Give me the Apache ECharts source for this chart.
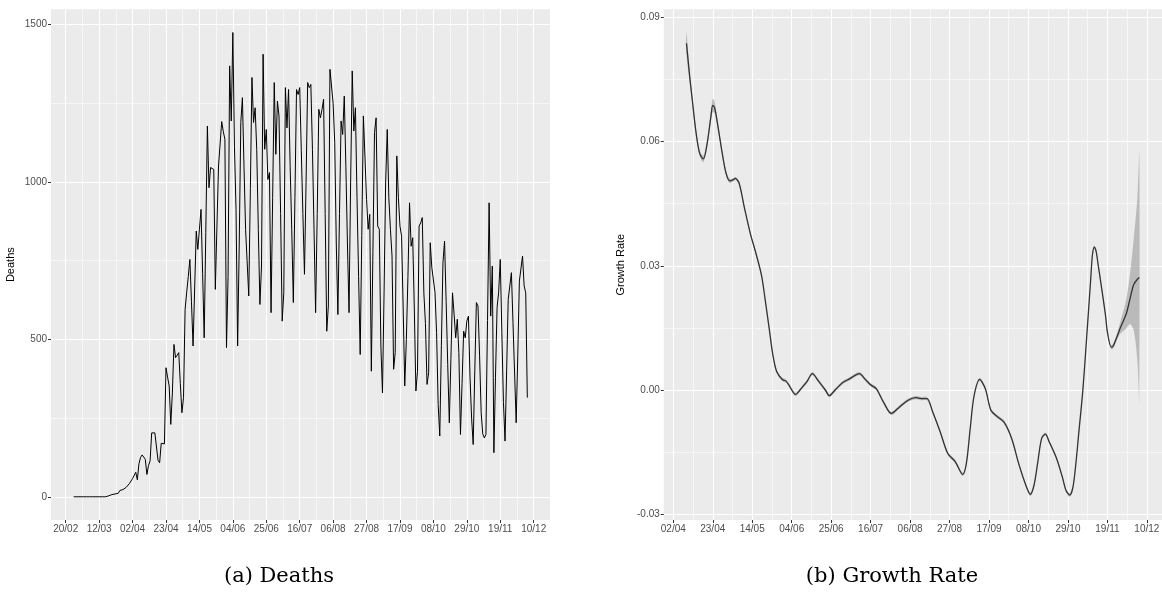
<!DOCTYPE html>
<html>
<head>
<meta charset="utf-8">
<script src="https://cdn.jsdelivr.net/npm/echarts@6/dist/echarts.min.js"></script>
<style>
  html, body { margin: 0; padding: 0; background: #fff; }
  #chart { width: 1162px; height: 592px; }
</style>
</head>
<body>
<div id="chart"></div>
<script>
// Daily deaths, one value per day starting on this date
const deathsStart = '2020-02-25';
const deaths = [
  0,0,0,0,0,0,0,0,0,0,0,0,0,0,0,0,0,0,0,0,0,
  1,3,4,7,7,9,12,11,20,22,23,25,30,35,42,48,58,64,78,54,
  105,125,133,135,119,71,99,114,203,204,203,207,116,108,170,170,168,410,380,352,
  230,330,484,442,450,458,360,267,315,595,650,700,754,620,479,484,844,786,850,913,
  710,505,840,1178,982,1046,1045,1040,659,860,1051,1056,1192,1160,1136,474,700,1369,1194,1475,
  1114,913,479,800,1189,1268,1050,850,855,638,980,1332,1189,1236,1104,850,611,733,1406,1104,
  1167,1008,1030,585,950,1316,1088,1257,1210,900,558,648,1300,1172,1294,1050,850,617,950,1294,
  1278,1300,1100,900,707,1000,1316,1300,1310,1104,850,585,900,1231,1204,1230,1263,900,526,606,
  1358,1363,1250,1125,800,579,900,1194,1151,1273,1050,800,585,1000,1353,1162,1236,950,700,452,
  830,1210,1080,945,850,897,399,780,1157,1204,860,850,479,330,650,1000,1167,950,850,765,
  405,458,1083,950,860,828,600,352,500,700,934,796,823,600,336,399,860,870,887,648,
  550,357,394,807,728,733,650,521,293,193,480,744,812,620,420,235,440,648,580,505,
  564,458,198,360,526,505,558,574,380,250,166,400,617,606,450,267,200,187,198,560,
  934,574,733,140,380,601,650,754,521,300,177,400,627,622,712,553,548,235,450,685,
  680,765,670,648,315
];

// Smoothed growth rate: days after 2 April 2020, estimate and half-width of its band
const growthOrigin = '2020-04-02';
const growthDay = [
  7,9,10,12,14,16,18,20,21,22,24,26,28,30,32,33,35,38,41,44,47,49,51,53,55,
  58,60,62,65,68,71,74,77,81,83,86,90,94,99,102,105,108,112,116,120,125,129,132,135,
  138,142,146,150,154,156,158,160,163,166,169,172,176,180,184,188,190,192,194,196,198,
  200,204,207,209,211,213,216,218,220,222,223,224,225,226,228,230,231,233,234,236,238,
  241,243,245,247,248
];
const growthRate = [
  0.0837,0.0745,0.0705,0.0625,0.0572,0.0558,0.0595,0.0660,0.0687,0.0682,0.0630,0.0573,0.0525,0.0505,0.0508,0.0511,0.0500,0.0437,0.0378,0.0330,0.0276,0.0215,0.0150,0.0085,0.0045,
  0.0026,0.0022,0.0009,-0.0010,0.0004,0.0020,0.0040,0.0024,0.0000,-0.0013,0.0000,0.0018,0.0028,0.0040,0.0027,0.0013,0.0004,-0.0030,-0.0056,-0.0042,-0.0024,-0.0018,-0.0020,-0.0020,
  -0.0052,-0.0100,-0.0152,-0.0172,-0.0203,-0.0175,-0.0092,-0.0015,0.0026,0.0004,-0.0048,-0.0062,-0.0077,-0.0116,-0.0180,-0.0234,-0.0251,-0.0228,-0.0172,-0.0116,-0.0106,
  -0.0124,-0.0165,-0.0209,-0.0242,-0.0253,-0.0225,-0.0092,0.0004,0.0130,0.0260,0.0325,0.0345,0.0335,0.0305,0.0244,0.0180,0.0140,0.0104,0.0106,0.0128,0.0152,
  0.0184,0.0220,0.0255,0.0268,0.0272
];
const growthBand = [
  0.0026,0.0012,0.0010,0.0008,0.0007,0.0008,0.0008,0.0012,0.0016,0.0014,0.0008,0.0006,0.0005,0.0005,0.0004,0.0004,0.0004,0.0004,0.0004,0.0004,0.0004,0.0004,0.0004,0.0004,0.0004,
  0.0004,0.0004,0.0004,0.0004,0.0004,0.0004,0.0004,0.0004,0.0004,0.0004,0.0004,0.0004,0.0004,0.0004,0.0004,0.0004,0.0004,0.0004,0.0004,0.0004,0.0004,0.0004,0.0004,0.0004,
  0.0004,0.0004,0.0004,0.0004,0.0004,0.0004,0.0004,0.0004,0.0004,0.0004,0.0004,0.0004,0.0004,0.0004,0.0004,0.0004,0.0004,0.0004,0.0004,0.0004,0.0004,
  0.0004,0.0004,0.0004,0.0004,0.0004,0.0004,0.0004,0.0004,0.0004,0.0004,0.0004,0.0004,0.0004,0.0004,0.0004,0.0004,0.0004,0.0005,0.0006,0.0008,0.0015,
  0.0035,0.0060,0.0110,0.0200,0.0300
];

// Axis tick labels
const deathDateTicks = ['20/02','12/03','02/04','23/04','14/05','04/06','25/06','16/07','06/08','27/08','17/09','08/10','29/10','19/11','10/12'];
const growthDateTicks = ['02/04','23/04','14/05','04/06','25/06','16/07','06/08','27/08','17/09','08/10','29/10','19/11','10/12'];
const deathTicks = [0, 500, 1000, 1500];
const growthTicks = [-0.03, 0, 0.03, 0.06, 0.09];

// ---- helpers -------------------------------------------------------------
const DAY = 864e5;
const YEAR0 = Date.parse('2020-01-01');
const dayNum = iso => Math.round((Date.parse(iso) - YEAR0) / DAY);
const ddmmToDay = s => dayNum('2020-' + s.slice(3, 5) + '-' + s.slice(0, 2));
const pad = n => (n < 10 ? '0' : '') + n;
const fmtDay = n => { const d = new Date(YEAR0 + Math.round(n) * DAY); return pad(d.getUTCDate()) + '/' + pad(d.getUTCMonth() + 1); };

// ggplot-style 5% expansion of a data range
const expand = (lo, hi) => { const r = hi - lo; return [lo - 0.05 * r, hi + 0.05 * r]; };
// minor grid values halfway between majors, extended to the axis range
const minorsOf = (majors, lo, hi) => {
  const step = majors[1] - majors[0];
  const out = [];
  for (let v = majors[0] - step / 2; v <= hi; v += step) if (v >= lo) out.push(+v.toFixed(8));
  return out;
};

// ---- series data -----------------------------------------------------------
const d0 = dayNum(deathsStart);
const deathPts = deaths.map((v, i) => [d0 + i, v]);
const g0 = dayNum(growthOrigin);
const growthPts = growthDay.map((d, i) => [g0 + d, growthRate[i]]);
const bandHi = growthDay.map((d, i) => [g0 + d, growthRate[i] + growthBand[i]]);
const bandLo = growthDay.map((d, i) => [g0 + d, growthRate[i] - growthBand[i]]);

const xA = expand(deathPts[0][0], deathPts[deathPts.length - 1][0]);
const yA = expand(Math.min(...deaths), Math.max(...deaths));
const xB = expand(growthPts[0][0], growthPts[growthPts.length - 1][0]);
const yB = expand(Math.min(...bandLo.map(p => p[1])), Math.max(...bandHi.map(p => p[1])));

const xMajA = deathDateTicks.map(ddmmToDay);
const xMajB = growthDateTicks.map(ddmmToDay);

// ---- styling ---------------------------------------------------------------
const SANS = '"Liberation Sans", Arial, Helvetica, sans-serif';
const PANEL = '#ebebeb';
const TICK = { color: '#333333', width: 1 };

function majorAxis(gridIndex, range, majors, fmt, extra) {
  return Object.assign({
    gridIndex, type: 'value', min: range[0], max: range[1], scale: true,
    axisLine: { show: false, onZero: false },
    axisTick: { show: true, customValues: majors, length: 3, lineStyle: TICK },
    axisLabel: { customValues: majors, formatter: fmt, color: '#4d4d4d', fontSize: 10, fontFamily: SANS, margin: 4 },
    splitLine: { show: true, lineStyle: { color: '#ffffff', width: 1.1 } },
    minorTick: { show: false }, minorSplitLine: { show: false }
  }, extra || {});
}
function minorAxis(gridIndex, range, minors) {
  return {
    gridIndex, type: 'value', min: range[0], max: range[1], scale: true,
    axisLine: { show: false, onZero: false },
    axisTick: { show: false, customValues: minors },
    axisLabel: { show: false, customValues: minors },
    splitLine: { show: true, lineStyle: { color: '#ffffff', width: 0.55 } }
  };
}
const nameStyle = { color: '#000000', fontSize: 11, fontFamily: SANS };

// confidence ribbon: upper edge forward, lower edge back, one closed shape
function renderBand(params, api) {
  const pts = bandHi.map(p => api.coord(p)).concat(bandLo.slice().reverse().map(p => api.coord(p)));
  return {
    type: 'polygon',
    shape: { points: pts, smooth: 0.3 },
    style: { fill: 'rgba(153,153,153,0.6)', stroke: null }
  };
}

const chart = echarts.init(document.getElementById('chart'), null, { renderer: 'canvas' });
chart.setOption({
  animation: false,
  backgroundColor: '#ffffff',
  grid: [
    { left: 51, right: 612, top: 9.3, bottom: 72, show: true, backgroundColor: PANEL, borderWidth: 0, outerBoundsMode: 'none' },
    { left: 663.8, right: 0, top: 9.3, bottom: 72, show: true, backgroundColor: PANEL, borderWidth: 0, outerBoundsMode: 'none' }
  ],
  xAxis: [
    majorAxis(0, xA, xMajA, fmtDay),
    minorAxis(0, xA, minorsOf(xMajA, xA[0], xA[1])),
    majorAxis(1, xB, xMajB, fmtDay),
    minorAxis(1, xB, minorsOf(xMajB, xB[0], xB[1]))
  ],
  yAxis: [
    majorAxis(0, yA, deathTicks, v => String(Math.round(v)),
      { name: 'Deaths', nameLocation: 'middle', nameGap: 35, nameTextStyle: nameStyle }),
    minorAxis(0, yA, minorsOf(deathTicks, yA[0], yA[1])),
    majorAxis(1, yB, growthTicks, v => v.toFixed(2),
      { name: 'Growth Rate', nameLocation: 'middle', nameGap: 37, nameTextStyle: nameStyle }),
    minorAxis(1, yB, minorsOf(growthTicks, yB[0], yB[1]))
  ],
  series: [
    {
      type: 'line', xAxisIndex: 0, yAxisIndex: 0, data: deathPts,
      showSymbol: false, symbol: 'none',
      lineStyle: { color: '#000000', width: 1 }, z: 5
    },
    {
      type: 'custom', xAxisIndex: 2, yAxisIndex: 2, data: [bandHi[0]],
      renderItem: renderBand, clip: true, silent: true, z: 3
    },
    {
      type: 'line', xAxisIndex: 2, yAxisIndex: 2, data: growthPts,
      showSymbol: false, symbol: 'none', smooth: 0.3,
      lineStyle: { color: '#333333', width: 1.3 }, z: 5
    }
  ],
  graphic: [
    { type: 'text', x: 279, y: 577, style: { text: '(a) Deaths', fontSize: 21, fontFamily: '"DejaVu Serif", serif', fill: '#000', align: 'center', verticalAlign: 'middle' } },
    { type: 'text', x: 892, y: 577, style: { text: '(b) Growth Rate', fontSize: 21, fontFamily: '"DejaVu Serif", serif', fill: '#000', align: 'center', verticalAlign: 'middle' } }
  ]
});
</script>
</body>
</html>
